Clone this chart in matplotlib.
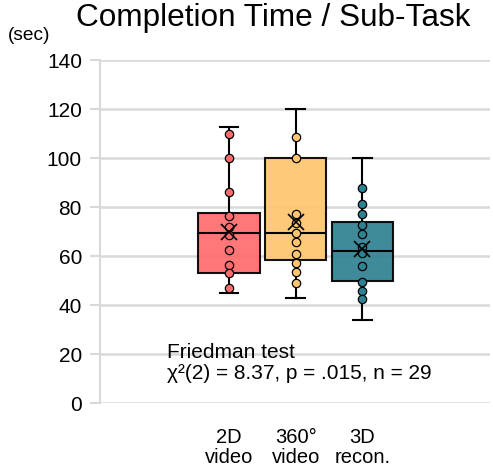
import numpy as np
import matplotlib
matplotlib.use('Agg')
import matplotlib.pyplot as plt

plt.rcParams['font.family'] = ['Liberation Sans', 'DejaVu Sans']

# categories and box stats
categories = ['2D\nvideo', '360°\nvideo', '3D\nrecon.']
colors = ['#ff6b6b', '#fec66e', '#2e8191']
medians = [69.5, 69.5, 62.2]
q1 = [53.0, 58.4, 49.9]
q3 = [77.5, 100.0, 73.9]
whis_lo = [45.0, 43.0, 34.0]
whis_hi = [112.5, 120.0, 100.0]
means = [70.0, 74.0, 62.7]

# visible individual points
points_2d = [110, 100, 86, 76.3, 72, 68.6, 62.4, 56.3, 53, 47]
points_360 = [108.7, 100, 77.1, 73.3, 69.5, 65.8, 60.7, 57.3, 53.6, 48.8]
points_3d = [87.8, 81.2, 77.1, 72.8, 69, 63.8, 61.1, 55.9, 49.4, 45.7, 42.3]
all_points = [points_2d, points_360, points_3d]

fig = plt.figure(figsize=(4.93, 4.69), dpi=100)
ax = fig.add_axes([100 / 493, 66 / 469, 390 / 493, 343 / 469])

stats = []
for i in range(3):
    stats.append({'med': medians[i], 'q1': q1[i], 'q3': q3[i],
                  'whislo': whis_lo[i], 'whishi': whis_hi[i],
                  'mean': means[i], 'fliers': []})

pos = np.arange(3)
bp = ax.bxp(stats, positions=pos, widths=0.92, capwidths=0.28,
            patch_artist=True, showmeans=False, showfliers=False,
            boxprops=dict(edgecolor='black', linewidth=1.5),
            medianprops=dict(color='black', linewidth=1.5),
            whiskerprops=dict(color='black', linewidth=1.5),
            capprops=dict(color='black', linewidth=1.5))
for patch, c in zip(bp['boxes'], colors):
    patch.set_facecolor(c)
    patch.set_alpha(0.92)
    patch.set_edgecolor('black')
for item in bp['whiskers'] + bp['caps'] + bp['medians']:
    item.set_zorder(3)

for i, pts in enumerate(all_points):
    ax.plot([pos[i]] * len(pts), pts, 'o', color=colors[i], markersize=6,
            markeredgecolor='black', markeredgewidth=0.9, zorder=4)
ax.plot(pos, means, 'x', color='black', markersize=11, markeredgewidth=1.2, zorder=5)

ax.set_xlim(-1.94, 3.92)
ax.set_ylim(0, 140)
ax.set_yticks(range(0, 141, 20))
ax.yaxis.grid(True, color='#d9d9d9', linewidth=1.8)
ax.set_axisbelow(True)
ax.set_xticks(pos)
ax.set_xticklabels(categories, fontsize=14.5, linespacing=1.05)
ax.tick_params(axis='x', length=0, pad=18)
ax.tick_params(axis='y', length=7, color='#d9d9d9', width=1.5, labelsize=15, pad=6)
for s in ['top', 'right', 'bottom']:
    ax.spines[s].set_visible(False)
ax.spines['left'].set_color('#d9d9d9')
ax.spines['left'].set_linewidth(1.5)

ax.text(0.172, 0.117, 'Friedman test\nχ²(2) = 8.37, p = .015, n = 29',
        transform=ax.transAxes, fontsize=15, va='center', ha='left',
        linespacing=1.15)

fig.text(273 / 493, 1 - 18 / 469, 'Completion Time / Sub-Task', fontsize=22.7,
         ha='center', va='center')
fig.text(8 / 493, 1 - 35 / 469, '(sec)', fontsize=13.8, ha='left', va='center')

fig.savefig('out.png', dpi=100)
